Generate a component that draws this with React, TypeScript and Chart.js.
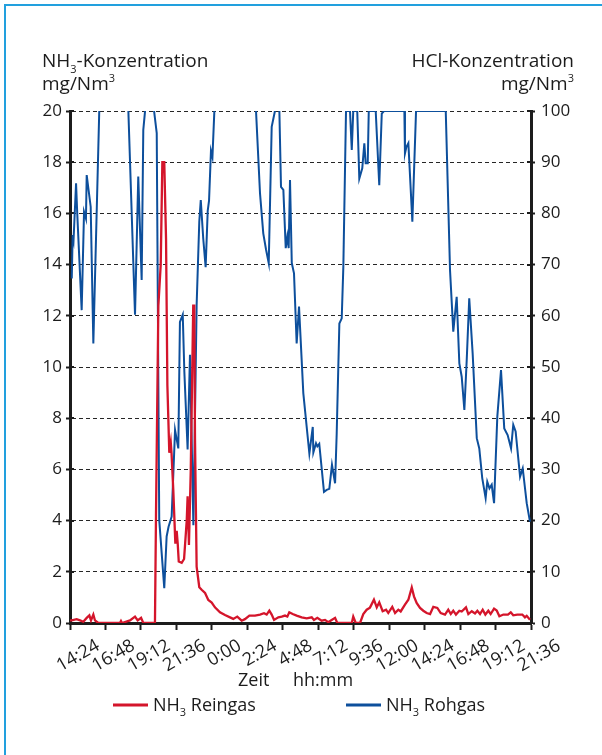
import { useEffect, useRef } from "react";
import { Chart, registerables } from "chart.js";

Chart.register(...registerables);

const FAMILY = "'Open Sans', 'Noto Sans', sans-serif";
const RED = "#d4152b";
const BLUE = "#0d4f9c";
const AXIS = "#1c1c1c";
const GRID = "#262626";
const FRAME = "#22a0de";

// Time axis: hours elapsed since 14:24, one label every 2:24
const timeLabels = [
  "14:24", "16:48", "19:12", "21:36", "0:00", "2:24", "4:48",
  "7:12", "9:36", "12:00", "14:24", "16:48", "19:12", "21:36",
];
const TIME_SPAN_H = 31.2;
const TIME_STEP_H = 2.4;

// NH3 Reingas, mg/Nm3 (left axis)
const reingasHours = [
  0, 0.12, 0.45, 0.68, 0.9, 1.13, 1.31, 1.42, 1.58, 1.69, 1.92, 3.38, 3.45, 3.52,
  4.06, 4.4, 4.58, 4.81, 4.96, 5.75, 5.82, 5.98, 6.14, 6.25, 6.38, 6.5, 6.59, 6.72,
  6.82, 6.87, 6.99, 7.13, 7.22, 7.29, 7.36, 7.56, 7.72, 7.9, 7.96, 8.05, 8.17, 8.34,
  8.41, 8.46, 8.57, 8.75, 8.91, 9.14, 9.36, 9.59, 9.81, 10.15, 10.49, 10.83, 11.05,
  11.32, 11.62, 11.84, 12.14, 12.52, 12.86, 13.13, 13.31, 13.49, 13.65, 13.81, 14.1,
  14.33, 14.55, 14.71, 14.84, 15.07, 15.34, 15.68, 16.02, 16.36, 16.51, 16.74, 17.03,
  17.26, 17.48, 17.71, 17.94, 18.09, 19.07, 19.17, 19.34, 19.63, 19.85, 20.08, 20.3,
  20.57, 20.76, 20.93, 21.16, 21.39, 21.54, 21.81, 22.0, 22.22, 22.38, 22.67, 22.9,
  23.13, 23.28, 23.46, 23.69, 23.91, 24.14, 24.37, 24.59, 24.86, 25.09, 25.38, 25.6,
  25.77, 25.94, 26.12, 26.35, 26.51, 26.8, 26.96, 27.19, 27.41, 27.57, 27.75, 27.93,
  28.11, 28.31, 28.47, 28.7, 28.88, 29.06, 29.33, 29.64, 29.83, 30.0, 30.27, 30.61,
  30.79, 30.91, 31.13,
];
const reingasValues = [
  0.1, 0.1, 0.15, 0.1, 0.05, 0.2, 0.3, 0.1, 0.33, 0.1, 0, 0, 0.08, 0,
  0.1, 0.25, 0.1, 0.2, 0, 0, 4.2, 12.4, 14, 18, 18, 15, 9.3, 6.65,
  7.05, 6.65, 5.2, 3.1, 3.6, 3.1, 2.4, 2.35, 2.5, 4.0, 4.95, 3.05, 5.9, 12.4,
  12.4, 7.2, 2.2, 1.4, 1.3, 1.17, 0.9, 0.8, 0.61, 0.42, 0.31, 0.22, 0.16,
  0.25, 0.09, 0.15, 0.29, 0.29, 0.33, 0.38, 0.33, 0.48, 0.33, 0.12, 0.22,
  0.25, 0.29, 0.25, 0.42, 0.35, 0.29, 0.22, 0.18, 0.22, 0.12, 0.2, 0.09,
  0.12, 0.03, 0.12, 0.2, 0, 0, 0.25, 0, 0, 0.35, 0.52, 0.6,
  0.91, 0.61, 0.81, 0.46, 0.52, 0.39, 0.63, 0.39, 0.52, 0.45, 0.72, 0.91,
  1.39, 1.04, 0.78, 0.59, 0.48, 0.39, 0.35, 0.63, 0.59, 0.39, 0.33, 0.52,
  0.35, 0.48, 0.33, 0.48, 0.45, 0.61, 0.35, 0.46, 0.37, 0.48, 0.35, 0.52,
  0.33, 0.48, 0.35, 0.56, 0.49, 0.26, 0.33, 0.33, 0.42, 0.3, 0.33, 0.33,
  0.22, 0.28, 0.13,
];

// NH3 Rohgas, plotted on the HCl scale (right axis); readings above 100 run off the top
const rohgasHours = [
  0.12, 0.18, 0.24, 0.41, 0.49, 0.79, 0.95, 1.08, 1.13, 1.4, 1.58, 1.98, 2.25, 3.61,
  3.95, 4.4, 4.62, 4.85, 4.96, 5.08, 5.28, 5.55, 5.69, 5.87, 6.04, 6.38, 6.54, 6.67,
  6.88, 7.11, 7.33, 7.44, 7.63, 7.74, 7.96, 8.12, 8.35, 8.57, 8.75, 8.85, 9.02, 9.18,
  9.32, 9.41, 9.54, 9.64, 9.77, 9.88, 12.32, 12.59, 12.86, 13.08, 13.27, 13.45, 13.65,
  13.87, 14.02, 14.17, 14.28, 14.44, 14.6, 14.71, 14.8, 14.89, 15.01, 15.16, 15.34,
  15.5, 15.79, 16.2, 16.43, 16.47, 16.65, 16.74, 16.87, 17.19, 17.37, 17.55, 17.73,
  17.94, 18.05, 18.23, 18.39, 18.5, 18.68, 18.95, 19.07, 19.17, 19.44, 19.58, 19.78,
  19.92, 20.01, 20.15, 20.22, 20.69, 20.93, 21.1, 21.25, 22.63, 22.67, 22.77, 22.9,
  23.17, 23.42, 25.43, 25.72, 25.94, 26.17, 26.35, 26.51, 26.69, 26.85, 27.02, 27.25,
  27.53, 27.7, 27.9, 28.13, 28.24, 28.39, 28.54, 28.7, 28.92, 29.17, 29.39, 29.62,
  29.85, 30.0, 30.16, 30.46, 30.64, 30.91, 31.13,
];
const rohgasValues = [
  67.3, 75.8, 74.8, 85.9, 80, 61.1, 80.3, 79, 87.5, 81.3, 54.6, 100, 130, 130,
  100, 60.2, 87.2, 67, 96.3, 100, 120, 120, 100, 95.7, 20.1, 6.8, 16.9, 18.8,
  20.8, 37.7, 34.1, 58.8, 60.2, 49, 33.9, 52.4, 19.1, 62, 78.4, 82.6, 75, 69.5,
  80.5, 82.5, 92.2, 91, 100, 125, 125, 100, 83.9, 76.1, 72.9, 70.3, 96.9,
  100, 108, 100, 85.2, 84.6, 73.2, 75.5, 73.2, 86.5, 70.3, 68.3, 54.6,
  61.8, 44.9, 33.1, 38.3, 33.3, 35.1, 34.5, 35, 25.6, 26, 26.2, 30.9,
  27.3, 37, 58.5, 59.5, 69.6, 100, 100, 92.4, 100, 100, 86.8, 88.8,
  93.7, 89.8, 89.8, 100, 100, 85.5, 99.5, 100, 100, 91.7, 93, 93.7,
  78.4, 100, 100, 68.9, 56.9, 63.7, 50.7, 48.1, 41.6, 51.4, 63.4, 52.7,
  36.1, 34.1, 28.3, 24.4, 27.6, 26.3, 27, 23.4, 40.3, 49.4, 38, 36.7,
  34.1, 38.7, 37.4, 28.6, 30.2, 23.4, 19.8,
];

type Run = { text: string; shift?: "sub" | "sup" };

function drawRuns(
  ctx: CanvasRenderingContext2D,
  runs: Run[],
  x: number,
  y: number,
  size: number,
  align: "left" | "right",
) {
  const fontFor = (r: Run) => `${r.shift ? Math.round(size * 0.6) : size}px ${FAMILY}`;
  let total = 0;
  for (const r of runs) {
    ctx.font = fontFor(r);
    total += ctx.measureText(r.text).width;
  }
  let cx = align === "right" ? x - total : x;
  ctx.textAlign = "left";
  ctx.textBaseline = "alphabetic";
  ctx.fillStyle = AXIS;
  for (const r of runs) {
    ctx.font = fontFor(r);
    const dy = r.shift === "sub" ? size * 0.3 : r.shift === "sup" ? -size * 0.42 : 0;
    ctx.fillText(r.text, cx, y + dy);
    cx += ctx.measureText(r.text).width;
  }
}

// Axis headings, x-axis caption, legend and the inner halves of the y tick marks
const decorations = {
  id: "decorations",
  beforeDatasetsDraw(chart: any) {
    const ctx: CanvasRenderingContext2D = chart.ctx;
    const { left, right } = chart.chartArea;
    ctx.save();
    ctx.strokeStyle = AXIS;
    ctx.lineWidth = 2;
    for (const id of ["y", "y1"]) {
      const scale = chart.scales[id];
      const x0 = id === "y" ? left : right;
      const dir = id === "y" ? 1 : -1;
      for (const t of scale.ticks) {
        const py = Math.round(scale.getPixelForValue(t.value));
        ctx.beginPath();
        ctx.moveTo(x0, py);
        ctx.lineTo(x0 + dir * 4, py);
        ctx.stroke();
      }
    }
    ctx.restore();
  },
  afterDraw(chart: any) {
    const ctx: CanvasRenderingContext2D = chart.ctx;
    ctx.save();
    drawRuns(ctx, [{ text: "NH" }, { text: "3", shift: "sub" }, { text: "-Konzentration" }], 42, 67, 19, "left");
    drawRuns(ctx, [{ text: "mg/Nm" }, { text: "3", shift: "sup" }], 42, 90, 19, "left");
    drawRuns(ctx, [{ text: "HCl-Konzentration" }], 574, 67, 19, "right");
    drawRuns(ctx, [{ text: "mg/Nm" }, { text: "3", shift: "sup" }], 574, 90, 19, "right");

    drawRuns(ctx, [{ text: "Zeit" }], 238, 686, 18, "left");
    drawRuns(ctx, [{ text: "hh:mm" }], 293, 686, 18, "left");

    const legend: { color: string; x: number; label: string }[] = [
      { color: RED, x: 113, label: " Reingas" },
      { color: BLUE, x: 346, label: " Rohgas" },
    ];
    for (const item of legend) {
      ctx.strokeStyle = item.color;
      ctx.lineWidth = 3;
      ctx.beginPath();
      ctx.moveTo(item.x, 705);
      ctx.lineTo(item.x + 35, 705);
      ctx.stroke();
      drawRuns(ctx, [{ text: "NH" }, { text: "3", shift: "sub" }, { text: item.label }], item.x + 40, 711, 18, "left");
    }
    ctx.restore();
  },
};

export default function App() {
  const canvasRef = useRef<HTMLCanvasElement | null>(null);

  useEffect(() => {
    const canvas = canvasRef.current;
    if (!canvas) return;

    const reingas = reingasHours.map((h, i) => ({ x: h, y: reingasValues[i] }));
    const rohgas = rohgasHours.map((h, i) => ({ x: h, y: rohgasValues[i] }));
    const tickFont = { family: FAMILY, size: 17 };

    const chart = new Chart(canvas, {
      type: "line",
      data: {
        datasets: [
          {
            label: "NH₃ Reingas",
            data: reingas,
            yAxisID: "y",
            borderColor: RED,
            borderWidth: 2.3,
            pointRadius: 0,
            tension: 0,
          },
          {
            label: "NH₃ Rohgas",
            data: rohgas,
            yAxisID: "y1",
            borderColor: BLUE,
            borderWidth: 2,
            pointRadius: 0,
            tension: 0,
          },
        ],
      },
      options: {
        animation: false,
        responsive: false,
        maintainAspectRatio: false,
        layout: { padding: { top: 111, left: 0, right: 0, bottom: 0 } },
        plugins: {
          legend: { display: false },
          tooltip: { enabled: false },
        },
        scales: {
          x: {
            type: "linear",
            min: 0,
            max: TIME_SPAN_H,
            ticks: {
              stepSize: TIME_STEP_H,
              autoSkip: false,
              minRotation: 30,
              maxRotation: 30,
              labelOffset: 28,
              padding: 5,
              color: AXIS,
              font: { family: FAMILY, size: 18 },
              callback: (_v: any, i: number) => timeLabels[i],
            },
            grid: {
              drawOnChartArea: false,
              drawTicks: true,
              tickLength: 7,
              tickWidth: 2,
              tickColor: AXIS,
            },
            border: { color: AXIS, width: 3 },
            afterFit: (s: any) => {
              s.height = 132;
            },
          },
          y: {
            position: "left",
            min: 0,
            max: 20,
            ticks: { stepSize: 2, padding: 4, color: AXIS, font: tickFont },
            grid: {
              color: GRID,
              lineWidth: 1,
              tickLength: 4,
              tickWidth: 2,
              tickColor: AXIS,
            },
            border: { color: AXIS, width: 3, dash: [4, 3] },
            afterFit: (s: any) => {
              s.width = 70;
            },
          },
          y1: {
            position: "right",
            min: 0,
            max: 100,
            ticks: { stepSize: 10, padding: 6, color: AXIS, font: tickFont },
            grid: {
              drawOnChartArea: false,
              tickLength: 4,
              tickWidth: 2,
              tickColor: AXIS,
            },
            border: { color: AXIS, width: 3 },
            afterFit: (s: any) => {
              s.width = 71;
            },
          },
        },
      },
      plugins: [decorations],
    });

    return () => chart.destroy();
  }, []);

  return (
    <div
      style={{
        position: "absolute",
        left: 0,
        top: 0,
        width: 602,
        height: 755,
        overflow: "hidden",
        background: "#ffffff",
      }}
    >
      <div
        style={{
          position: "absolute",
          left: 4,
          top: 4,
          width: 800,
          height: 900,
          border: `2px solid ${FRAME}`,
        }}
      />
      <canvas
        ref={canvasRef}
        width={602}
        height={755}
        style={{ position: "absolute", left: 0, top: 0, width: 602, height: 755 }}
      />
    </div>
  );
}
